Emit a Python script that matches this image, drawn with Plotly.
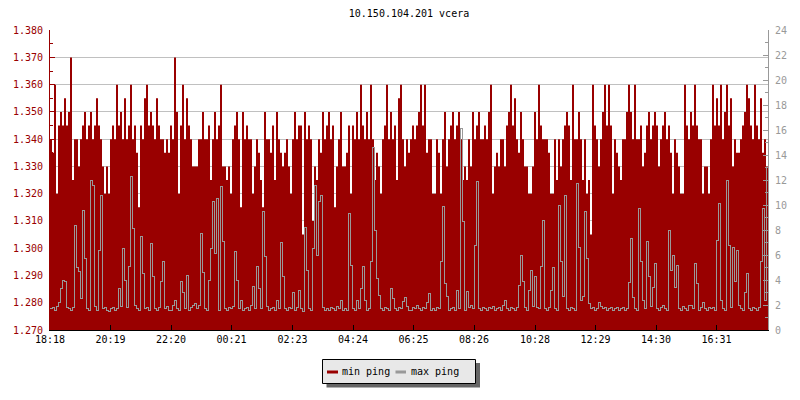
import pandas as pd
import plotly.graph_objects as go

title_text = "10.150.104.201 vcera"
series_names = ["min ping", "max ping"]
start_time = "2024-01-01 18:18"
sample_minutes = 4
tick_labels = ["18:18", "20:19", "22:20", "00:21", "02:23", "04:24",
               "06:25", "08:26", "10:28", "12:29", "14:30", "16:31"]

# min ping (left axis), one value per 4 minutes
min_ping = [
    1.340, 1.335, 1.360, 1.320, 1.345, 1.350, 1.345, 1.355, 1.345, 1.350,
    1.370, 1.325, 1.340, 1.340, 1.330, 1.340, 1.345, 1.350, 1.340, 1.345,
    1.350, 1.340, 1.345, 1.355, 1.345, 1.340, 1.330, 1.320, 1.330, 1.320,
    1.340, 1.345, 1.340, 1.360, 1.345, 1.350, 1.340, 1.355, 1.340, 1.345,
    1.360, 1.340, 1.345, 1.335, 1.315, 1.345, 1.340, 1.355, 1.360, 1.345,
    1.350, 1.345, 1.340, 1.355, 1.345, 1.340, 1.340, 1.335, 1.340, 1.335,
    1.345, 1.340, 1.370, 1.350, 1.320, 1.345, 1.360, 1.340, 1.355, 1.345,
    1.340, 1.330, 1.330, 1.330, 1.340, 1.340, 1.350, 1.340, 1.340, 1.345,
    1.325, 1.340, 1.350, 1.340, 1.345, 1.360, 1.330, 1.330, 1.325, 1.330,
    1.320, 1.340, 1.345, 1.350, 1.340, 1.315, 1.350, 1.340, 1.345, 1.340,
    1.340, 1.320, 1.330, 1.340, 1.335, 1.325, 1.315, 1.350, 1.340, 1.340,
    1.335, 1.345, 1.325, 1.350, 1.340, 1.335, 1.330, 1.335, 1.340, 1.330,
    1.320, 1.340, 1.350, 1.340, 1.345, 1.345, 1.305, 1.350, 1.340, 1.345,
    1.340, 1.310, 1.330, 1.325, 1.340, 1.335, 1.350, 1.340, 1.345, 1.350,
    1.340, 1.345, 1.315, 1.330, 1.340, 1.350, 1.330, 1.330, 1.335, 1.345,
    1.320, 1.345, 1.340, 1.350, 1.340, 1.360, 1.345, 1.340, 1.350, 1.340,
    1.360, 1.340, 1.325, 1.335, 1.330, 1.320, 1.340, 1.345, 1.360, 1.340,
    1.350, 1.340, 1.345, 1.325, 1.355, 1.360, 1.340, 1.330, 1.340, 1.335,
    1.340, 1.345, 1.340, 1.345, 1.350, 1.360, 1.345, 1.360, 1.335, 1.340,
    1.340, 1.320, 1.320, 1.340, 1.335, 1.320, 1.340, 1.350, 1.330, 1.340,
    1.345, 1.350, 1.340, 1.345, 1.350, 1.340, 1.325, 1.330, 1.325, 1.340,
    1.330, 1.350, 1.340, 1.345, 1.350, 1.340, 1.340, 1.345, 1.340, 1.350,
    1.360, 1.320, 1.330, 1.335, 1.330, 1.340, 1.340, 1.330, 1.345, 1.350,
    1.360, 1.345, 1.355, 1.340, 1.335, 1.350, 1.340, 1.330, 1.330, 1.320,
    1.320, 1.330, 1.350, 1.340, 1.360, 1.345, 1.340, 1.340, 1.340, 1.335,
    1.320, 1.320, 1.340, 1.325, 1.340, 1.330, 1.340, 1.345, 1.350, 1.345,
    1.325, 1.360, 1.340, 1.340, 1.350, 1.340, 1.325, 1.340, 1.320, 1.325,
    1.305, 1.360, 1.345, 1.340, 1.330, 1.340, 1.350, 1.360, 1.345, 1.360,
    1.345, 1.320, 1.340, 1.335, 1.330, 1.325, 1.340, 1.340, 1.350, 1.360,
    1.350, 1.340, 1.360, 1.340, 1.340, 1.345, 1.330, 1.335, 1.345, 1.350,
    1.340, 1.345, 1.350, 1.345, 1.330, 1.340, 1.345, 1.350, 1.340, 1.345,
    1.335, 1.320, 1.340, 1.335, 1.330, 1.320, 1.320, 1.360, 1.345, 1.340,
    1.350, 1.345, 1.360, 1.345, 1.340, 1.340, 1.320, 1.330, 1.330, 1.320,
    1.340, 1.360, 1.345, 1.355, 1.345, 1.360, 1.340, 1.350, 1.360, 1.345,
    1.355, 1.330, 1.340, 1.335, 1.335, 1.340, 1.345, 1.350, 1.360, 1.355,
    1.345, 1.340, 1.360, 1.345, 1.340, 1.355, 1.335, 1.340, 1.330, 1.320,
]

# max ping (right axis)
max_ping = [
    1.7, 1.8, 1.6, 1.9, 2.2, 3.3, 4.0, 3.9, 1.8, 1.7,
    1.6, 1.8, 8.4, 5.0, 4.7, 2.5, 9.6, 5.7, 1.7, 1.6,
    12.0, 11.6, 1.9, 1.6, 6.4, 10.8, 1.7, 1.8, 1.6, 1.5,
    1.7, 1.8, 1.6, 1.7, 3.3, 1.9, 6.5, 4.0, 1.8, 5.1,
    12.3, 8.1, 2.0, 1.7, 1.6, 7.5, 4.5, 1.7, 1.8, 1.6,
    6.9, 4.3, 1.7, 1.6, 1.8, 3.9, 5.5, 1.7, 1.9, 1.6,
    1.6, 2.0, 2.4, 1.7, 1.6, 3.9, 3.0, 1.7, 4.4, 1.6,
    1.8, 2.0, 2.1, 1.7, 2.0, 7.7, 4.6, 1.7, 1.6, 4.0,
    6.5, 10.3, 6.1, 10.5, 1.6, 11.5, 7.1, 1.7, 1.6, 1.8,
    1.7, 1.9, 6.3, 4.0, 1.7, 2.4, 1.6, 1.7, 1.8, 1.6,
    2.0, 3.5, 1.7, 5.1, 3.3, 1.7, 9.5, 5.9, 1.9, 1.6,
    1.7, 1.8, 1.6, 2.4, 1.7, 7.0, 4.3, 1.7, 1.6, 1.8,
    1.7, 3.0, 1.6, 1.8, 3.2, 1.7, 1.5, 8.2, 4.8, 1.7,
    1.6, 6.5, 11.6, 6.0, 10.3, 10.8, 1.8, 1.6, 1.7, 1.6,
    1.8, 1.7, 1.6, 1.9, 1.7, 2.4, 1.6, 1.7, 1.6, 9.3,
    5.2, 1.7, 1.6, 2.4, 1.7, 3.3, 5.1, 2.4, 1.6, 1.7,
    5.5, 14.6, 8.0, 4.1, 2.8, 1.7, 1.6, 1.8, 1.7, 1.6,
    3.3, 2.5, 1.7, 1.6, 1.8, 1.7, 2.3, 2.6, 1.9, 1.6,
    1.6, 1.8, 1.7, 2.0, 1.7, 1.6, 1.8, 1.7, 2.2, 2.9,
    1.6, 1.7, 1.6, 1.8, 1.7, 5.5, 9.9, 3.7, 2.7, 1.6,
    1.7, 1.8, 1.6, 3.2, 1.7, 16.1, 8.7, 1.6, 3.1, 1.8,
    2.0, 1.7, 6.8, 11.9, 1.7, 1.6, 1.8, 1.7, 1.6, 1.8,
    1.7, 1.9, 1.6, 1.7, 1.8, 1.6, 2.0, 2.4, 1.7, 1.6,
    1.8, 1.7, 1.6, 1.8, 3.6, 6.0, 3.9, 1.8, 1.6, 3.2,
    4.8, 1.9, 4.3, 1.8, 1.7, 5.1, 8.8, 1.7, 1.6, 1.8,
    3.2, 5.0, 1.7, 1.6, 10.0, 5.5, 2.7, 10.8, 1.7, 1.6,
    1.8, 1.7, 1.6, 11.7, 6.6, 2.4, 2.7, 9.5, 5.7, 2.1,
    1.7, 1.8, 1.6, 1.7, 2.2, 1.9, 1.7, 1.8, 1.6, 1.7,
    1.8, 1.6, 1.7, 1.8, 1.6, 1.7, 1.8, 1.6, 1.7, 3.8,
    7.3, 2.6, 1.7, 1.6, 9.7, 5.5, 2.4, 1.7, 7.1, 4.3,
    1.9, 3.4, 5.3, 1.7, 1.6, 1.8, 2.0, 1.7, 1.6, 8.0,
    4.8, 6.0, 3.4, 5.2, 1.7, 1.6, 1.9, 1.7, 1.6, 2.0,
    2.0, 1.7, 5.3, 3.7, 1.6, 1.8, 2.2, 1.7, 1.6, 1.8,
    1.7, 1.8, 1.6, 7.2, 10.1, 2.4, 1.7, 1.6, 12.0, 6.8,
    1.8, 6.6, 3.9, 6.4, 2.0, 1.7, 1.6, 3.0, 4.5, 1.7,
    1.6, 1.8, 1.7, 1.6, 1.8, 5.5, 9.7, 2.4, 13.0, 22.5,
]

RED = "#990000"
GRAY = "#999999"
FONT = "DejaVu Sans Mono"

times = pd.date_range(start_time, periods=len(min_ping), freq=f"{sample_minutes}min")
start = times[0]
tickvals = []
for lab in tick_labels:
    t = pd.Timestamp(f"{start.date()} {lab}")
    if t < start:
        t += pd.Timedelta(days=1)
    tickvals.append(t)

fig = go.Figure()
fig.add_trace(go.Scatter(
    x=times, y=min_ping, name=series_names[0], mode="lines",
    line=dict(color=RED, width=0, shape="hv"),
    fill="tozeroy", fillcolor=RED, showlegend=False, yaxis="y"))
fig.add_trace(go.Scatter(
    x=times, y=max_ping, name=series_names[1], mode="lines",
    line=dict(color=GRAY, width=1, shape="hv"),
    showlegend=False, yaxis="y2"))

# plot area in pixels: x 50..768, y 30..330
L, R, T, B = 50, 768, 30, 330
def px_x(p):
    return (p - L) / (R - L)
def px_y(p):
    return (B - p) / (B - T)

shapes = [
    dict(type="rect", xref="paper", yref="paper",
         x0=px_x(326.5), x1=px_x(480), y0=px_y(363), y1=px_y(387.5),
         fillcolor="#666666", line=dict(width=0), layer="above"),
    dict(type="rect", xref="paper", yref="paper",
         x0=px_x(322.5), x1=px_x(475.5), y0=px_y(359.5), y1=px_y(383.5),
         fillcolor="#e8e8e8", line=dict(color="black", width=1), layer="above"),
    dict(type="line", xref="paper", yref="paper",
         x0=px_x(327), x1=px_x(338), y0=px_y(372), y1=px_y(372),
         line=dict(color=RED, width=3), layer="above"),
    dict(type="line", xref="paper", yref="paper",
         x0=px_x(395.5), x1=px_x(406), y0=px_y(372), y1=px_y(372),
         line=dict(color=GRAY, width=3), layer="above"),
]
annotations = [
    dict(xref="paper", yref="paper", x=px_x(340), y=px_y(371),
         xanchor="left", yanchor="middle", showarrow=False,
         text=series_names[0], font=dict(family=FONT, size=10, color="black")),
    dict(xref="paper", yref="paper", x=px_x(408.5), y=px_y(371),
         xanchor="left", yanchor="middle", showarrow=False,
         text=series_names[1], font=dict(family=FONT, size=10, color="black")),
]

fig.update_layout(
    width=800, height=400, autosize=False,
    margin=dict(l=L, r=800 - R, t=T, b=400 - B, pad=0),
    paper_bgcolor="white", plot_bgcolor="white",
    font=dict(family=FONT, size=10, color="black"),
    title=dict(text=title_text, x=0.5, xref="paper", xanchor="center",
               y=1 - 13 / 400, yref="container", yanchor="middle",
               font=dict(family=FONT, size=10, color="black")),
    xaxis=dict(type="date", range=[times[0], times[-1]],
               tickvals=tickvals, ticktext=tick_labels,
               ticks="inside", ticklen=5, tickcolor="black",
               showline=True, linecolor="black", linewidth=1,
               showgrid=False, zeroline=False,
               tickfont=dict(family=FONT, size=10, color="black")),
    yaxis=dict(range=[1.27, 1.38006], tick0=1.27, dtick=0.01, tickformat=".3f",
               ticks="inside", ticklen=5, tickcolor=RED,
               showline=True, linecolor=RED, linewidth=1,
               showgrid=True, gridcolor="#c0c0c0", gridwidth=1, zeroline=False,
               ticklabelstandoff=4,
               minor=dict(dtick=0.005, tick0=1.27, ticks="inside", ticklen=3,
                          tickcolor=RED, showgrid=False),
               tickfont=dict(family=FONT, size=10, color=RED)),
    yaxis2=dict(overlaying="y", side="right", range=[0, 24], tick0=0, dtick=2,
                ticks="inside", ticklen=5, tickcolor=GRAY,
                showline=True, linecolor=GRAY, linewidth=1,
                showgrid=False, zeroline=False, ticklabelstandoff=4,
                minor=dict(dtick=1, tick0=0, ticks="inside", ticklen=3,
                           tickcolor=GRAY, showgrid=False),
                tickfont=dict(family=FONT, size=10, color=GRAY)),
    shapes=shapes, annotations=annotations,
)

fig.write_html(
    "out.html",
    config={"displayModeBar": False, "staticPlot": True},
    post_script=(
        "document.body.style.margin='0';"
        "document.querySelectorAll('.scatterlayer .js-line').forEach("
        "function(p){p.style.shapeRendering='crispEdges';});"
    ),
)
